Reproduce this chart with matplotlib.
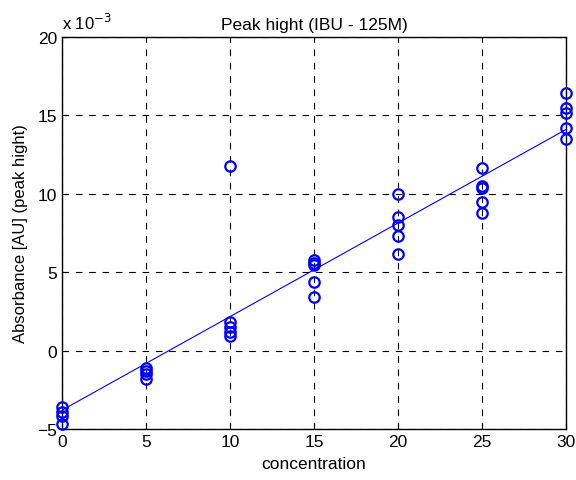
import numpy as np
import matplotlib
matplotlib.use('Agg')
from matplotlib import pyplot as plt

plt.rcParams['font.family'] = ['Liberation Sans', 'DejaVu Sans']

# absorbance readings, in units of 1e-3 AU
conc = [0, 0, 0, 0,
        5, 5, 5, 5,
        10, 10, 10, 10, 10,
        15, 15, 15, 15, 15,
        20, 20, 20, 20, 20,
        25, 25, 25, 25, 25,
        30, 30, 30, 30, 30]
absorb = [-3.6, -3.9, -4.2, -4.7,
          -1.1, -1.3, -1.5, -1.8,
          11.75, 1.85, 1.5, 1.2, 0.95,
          5.8, 5.6, 5.45, 4.35, 3.4,
          10.0, 8.5, 8.0, 7.3, 6.15,
          11.65, 10.5, 10.4, 9.5, 8.75,
          16.4, 15.5, 15.15, 14.2, 13.5]

# linear fit shown on the chart
fit_slope = 0.597
fit_intercept = -3.8

xticks = [0, 5, 10, 15, 20, 25, 30]
yticks = [-5, 0, 5, 10, 15, 20]

fig = plt.figure(figsize=(5.76, 4.81), dpi=100)
ax = fig.add_axes([0.1076, 0.106, 0.8754, 0.815])

xfit = np.array([0, 30])
ax.plot(xfit, fit_intercept + fit_slope * xfit, color='blue', lw=0.8)
ax.plot(conc, absorb, 'o', mfc='none', mec='blue', mew=1.6, ms=7.5,
        clip_on=False, zorder=5)

ax.set_xlim(0, 30)
ax.set_ylim(-5, 20)
ax.set_xticks(xticks)
ax.set_yticks(yticks)
ax.tick_params(direction='in', length=4, labelsize=12.5, colors='black')
ax.grid(True, color='black', linestyle=(0, (6, 6)), lw=0.8)
for s in ax.spines.values():
    s.set_linewidth(1.0)

ax.set_title('Peak hight (IBU - 125M)', fontsize=12.5, pad=6)
ax.set_xlabel('concentration', fontsize=12.5, labelpad=5)
ax.set_ylabel('Absorbance [AU] (peak hight)', fontsize=12, labelpad=7)
ax.text(0.0, 1.012, 'x 10$^{-3}$', transform=ax.transAxes, fontsize=12,
        ha='left', va='bottom')

fig.savefig('out.png', dpi=100)
